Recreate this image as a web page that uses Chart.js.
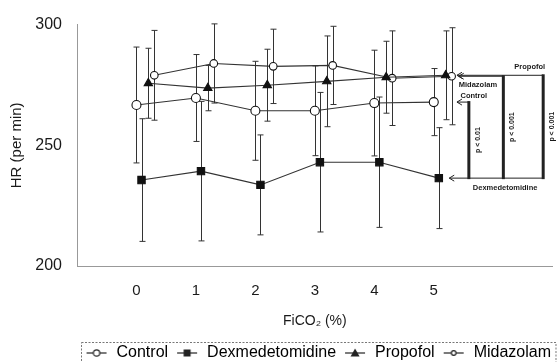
<!DOCTYPE html>
<html>
<head>
<meta charset="utf-8" />
<title>HR vs FiCO2</title>
<style>
  html, body { margin: 0; padding: 0; background: #fff; }
  #wrap { width: 559px; height: 362px; }
</style>
</head>
<body>
<div id="wrap"><canvas id="chart" width="559" height="362"></canvas></div>
<script src="https://cdn.jsdelivr.net/npm/chart.js@4.4.1/dist/chart.umd.min.js"></script>
<script>
// heart rate (mean and SD) at each inspired CO2 step
const fico2 = [0, 1, 2, 3, 4, 5];
const controlHR = [266.7, 269.6, 264.3, 264.3, 267.5, 267.9];
const controlSD = [24.0, 18.0, 20.5, 18.6, 21.9, 13.9];
const dexHR = [235.6, 239.3, 233.6, 243.0, 243.0, 236.4];
const dexSD = [25.4, 28.9, 20.7, 28.9, 27.0, 20.9];
const propofolHR = [275.7, 273.7, 274.9, 276.5, 278.2, 279.0];
const propofolSD = [14.5, 9.4, 14.9, 18.8, 14.9, 18.4];
const midazolamHR = [279.0, 283.9, 282.7, 283.1, 277.8, 278.6];
const midazolamSD = [18.6, 16.4, 15.4, 16.2, 19.6, 20.1];
const groupNames = ['Control', 'Dexmedetomidine', 'Propofol', 'Midazolam'];
const yTicks = [200, 250, 300];
const pLabels = ['p < 0.01', 'p < 0.001', 'p < 0.001'];

const FONT = "'Liberation Sans', Arial, sans-serif";
const INK = '#1a1a1a';

// small horizontal shift so the groups don't sit on top of each other
const dodge = [0, 0.085, 0.2, 0.3];

function pts(hr, k) {
  return fico2.map((x, i) => ({ x: x + dodge[k], y: hr[i] }));
}

function makeIcon(kind) {
  const c = document.createElement('canvas');
  c.width = 22; c.height = 12;
  const g = c.getContext('2d');
  g.strokeStyle = '#222'; g.fillStyle = '#222'; g.lineWidth = 1.2;
  g.beginPath(); g.moveTo(1, 6); g.lineTo(21, 6); g.stroke();
  g.beginPath();
  if (kind === 'circle') {
    g.arc(11, 6, 3.2, 0, Math.PI * 2);
    g.fillStyle = '#fff'; g.fill(); g.stroke();
  } else if (kind === 'rect') {
    g.rect(7.5, 2.5, 7, 7); g.fill();
  } else if (kind === 'triangle') {
    g.moveTo(11, 1.5); g.lineTo(15.5, 9.5); g.lineTo(6.5, 9.5); g.closePath(); g.fill();
  } else {
    g.arc(11, 6, 2.3, 0, Math.PI * 2);
    g.fillStyle = '#fff'; g.fill(); g.stroke();
  }
  return c;
}
const legendIcons = [makeIcon('circle'), makeIcon('rect'), makeIcon('triangle'), makeIcon('small')];

const errorBars = {
  id: 'errorBars',
  beforeDatasetsDraw(chart) {
    const { ctx, scales: { x, y } } = chart;
    ctx.save();
    ctx.strokeStyle = '#333';
    ctx.lineWidth = 1;
    chart.data.datasets.forEach((ds) => {
      ds.data.forEach((p, i) => {
        const px = Math.round(x.getPixelForValue(p.x)) + 0.5;
        const t = y.getPixelForValue(p.y + ds.sd[i]);
        const b = y.getPixelForValue(p.y - ds.sd[i]);
        ctx.beginPath();
        ctx.moveTo(px, t); ctx.lineTo(px, b);
        ctx.moveTo(px - 3, t); ctx.lineTo(px + 3, t);
        ctx.moveTo(px - 3, b); ctx.lineTo(px + 3, b);
        ctx.stroke();
      });
    });
    ctx.restore();
  }
};

// brackets on the right comparing each group with dexmedetomidine at 5 %
const sigBrackets = {
  id: 'sigBrackets',
  afterDatasetsDraw(chart) {
    const { ctx, scales: { x, y } } = chart;
    const last = fico2.length - 1;
    const yDex = y.getPixelForValue(dexHR[last]);
    const rows = [
      { v: controlHR[last], from: 5.39, to: 5.59, name: 'Control', p: pLabels[0] },
      { v: midazolamHR[last], from: 5.42, to: 6.17, name: 'Midazolam', p: pLabels[1] },
      { v: propofolHR[last], from: 5.39, to: 6.84, name: 'Propofol', p: pLabels[2] }
    ];
    ctx.save();
    ctx.strokeStyle = '#222';
    ctx.fillStyle = INK;
    const arrow = (ax, ay) => {
      ctx.lineWidth = 1;
      ctx.beginPath();
      ctx.moveTo(ax + 5, ay - 3); ctx.lineTo(ax, ay); ctx.lineTo(ax + 5, ay + 3);
      ctx.stroke();
    };
    const xEnd = x.getPixelForValue(6.84);
    ctx.lineWidth = 1;
    const dx0 = x.getPixelForValue(5.26);
    ctx.beginPath(); ctx.moveTo(dx0, yDex); ctx.lineTo(xEnd, yDex); ctx.stroke();
    arrow(dx0, yDex);
    rows.forEach((r) => {
      const yy = y.getPixelForValue(r.v);
      const x0 = x.getPixelForValue(r.from);
      const x1 = x.getPixelForValue(r.to);
      ctx.lineWidth = 1;
      ctx.beginPath(); ctx.moveTo(x0, yy); ctx.lineTo(x1, yy); ctx.stroke();
      arrow(x0, yy);
      ctx.lineWidth = 3;
      ctx.beginPath(); ctx.moveTo(x1, yy - 1); ctx.lineTo(x1, yDex + 1); ctx.stroke();
      ctx.save();
      ctx.translate(x1 + 9, (yy + yDex) / 2);
      ctx.rotate(-Math.PI / 2);
      ctx.font = 'bold 7px ' + FONT;
      ctx.textAlign = 'center';
      ctx.textBaseline = 'middle';
      ctx.fillText(r.p, 0, 0);
      ctx.restore();
    });
    ctx.font = 'bold 7.5px ' + FONT;
    ctx.textBaseline = 'middle';
    const yP = y.getPixelForValue(propofolHR[last]);
    const yM = y.getPixelForValue(midazolamHR[last]);
    const yC = y.getPixelForValue(controlHR[last]);
    ctx.textAlign = 'right';
    ctx.fillText(groupNames[2], xEnd + 2, yP - 8);
    ctx.textAlign = 'left';
    ctx.fillText(groupNames[3], x.getPixelForValue(5.42), yM + 9);
    ctx.fillText(groupNames[0], x.getPixelForValue(5.45), yC - 6);
    ctx.textAlign = 'center';
    ctx.fillText(groupNames[1], x.getPixelForValue(6.2), yDex + 10);
    ctx.restore();
  }
};

// dotted frame around the legend row
const legendFrame = {
  id: 'legendFrame',
  afterDraw(chart) {
    const boxes = chart.legend && chart.legend.legendHitBoxes;
    if (!boxes || !boxes.length) return;
    const l = Math.min(...boxes.map(b => b.left)) - 4;
    const r = Math.max(...boxes.map(b => b.left + b.width)) + 4;
    const t = boxes[0].top - 3;
    const ctx = chart.ctx;
    ctx.save();
    ctx.strokeStyle = '#777';
    ctx.lineWidth = 1;
    ctx.setLineDash([2, 1.5]);
    ctx.strokeRect(Math.round(l) + 0.5, Math.round(t) + 0.5, r - l, 30);
    ctx.restore();
  }
};

const series = [controlHR, dexHR, propofolHR, midazolamHR];
const sds = [controlSD, dexSD, propofolSD, midazolamSD];
const styles = [
  { pointStyle: 'circle', pointRadius: 4.5, pointBackgroundColor: '#fff' },
  { pointStyle: 'rect', pointRadius: 5.2, pointBackgroundColor: '#111' },
  { pointStyle: 'triangle', pointRadius: 4.8, pointBackgroundColor: '#111' },
  { pointStyle: 'circle', pointRadius: 3.8, pointBackgroundColor: '#fff' }
];

new Chart(document.getElementById('chart'), {
  type: 'line',
  data: {
    datasets: series.map((hr, k) => Object.assign({
      label: groupNames[k],
      data: pts(hr, k),
      sd: sds[k],
      borderColor: '#333',
      borderWidth: 1.1,
      pointBorderColor: '#111',
      pointBorderWidth: 1.1,
      tension: 0
    }, styles[k]))
  },
  options: {
    responsive: false,
    animation: false,
    layout: { padding: { top: 21, right: 1, left: 0, bottom: -9 } },
    scales: {
      x: {
        type: 'linear', min: -1, max: 7,
        afterBuildTicks: (s) => { s.ticks = fico2.map(v => ({ value: v })); },
        afterFit: (s) => { s.height = 72; },
        grid: { display: false, drawTicks: false },
        border: { display: true, color: '#999', dash: [3, 2] },
        ticks: { padding: 16, color: INK, font: { family: FONT, size: 15 } },
        title: {
          display: true, text: 'FiCO\u2082 (%)', color: INK,
          font: { family: FONT, size: 14 }, padding: { top: 0, bottom: 8 }
        }
      },
      y: {
        min: 200, max: 300,
        afterBuildTicks: (s) => { s.ticks = yTicks.map(v => ({ value: v })); },
        afterFit: (s) => { s.width = 77; },
        grid: { display: false, drawTicks: false },
        border: { display: true, color: '#999', dash: [2, 2] },
        ticks: { padding: 15, color: INK, font: { family: FONT, size: 16 } },
        title: {
          display: true, text: 'HR (per min)', color: INK,
          font: { family: FONT, size: 15 }, padding: { top: 8, bottom: 0 }
        }
      }
    },
    plugins: {
      legend: {
        position: 'bottom',
        align: 'end',
        labels: {
          usePointStyle: true,
          pointStyleWidth: 24,
          padding: 7,
          color: INK,
          font: { family: FONT, size: 16 },
          generateLabels: (chart) => chart.data.datasets.map((ds, i) => ({
            text: ds.label,
            pointStyle: legendIcons[i],
            datasetIndex: i,
            hidden: false,
            lineWidth: 0,
            strokeStyle: 'rgba(0,0,0,0)',
            fillStyle: 'rgba(0,0,0,0)'
          }))
        }
      },
      tooltip: { enabled: false }
    }
  },
  plugins: [errorBars, sigBrackets, legendFrame]
});
</script>
</body>
</html>
